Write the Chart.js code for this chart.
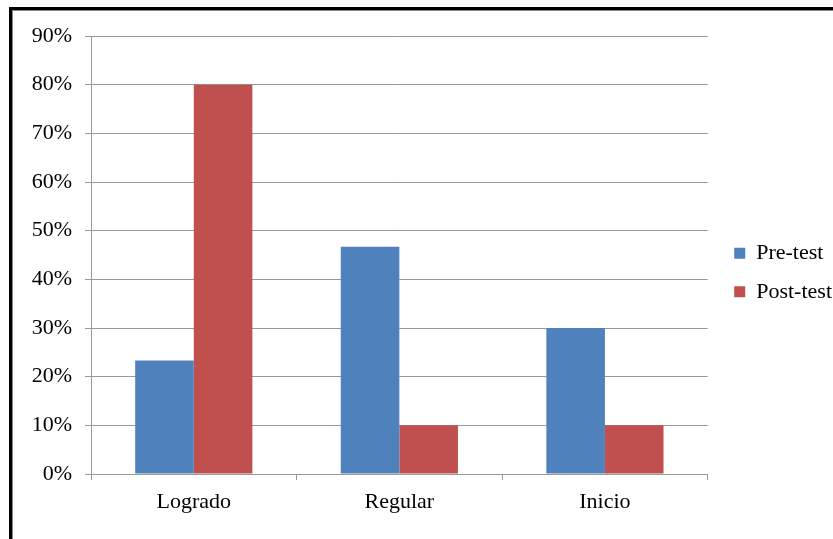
<!DOCTYPE html>
<html>
<head>
<meta charset="utf-8">
<script src="https://cdn.jsdelivr.net/npm/chart.js@4.4.0/dist/chart.umd.min.js"></script>
<style>
  html, body { margin: 0; padding: 0; background: #fff; }
  #wrap { position: relative; width: 833px; height: 539px; overflow: hidden; }
  #frame {
    position: absolute; left: 9px; top: 7px; width: 900px; height: 600px;
    border-top: 3px solid #000; border-left: 3px solid #000;
    box-shadow: inset 1px 1px 0 #888;
  }
  canvas { position: absolute; left: 0; top: 0; }
</style>
</head>
<body>
<div id="wrap">
  <canvas id="chart" width="833" height="539"></canvas>
  <div id="frame"></div>
</div>
<script>
// data
const categories = ['Logrado', 'Regular', 'Inicio'];
const preTest = [0.233, 0.467, 0.30];
const postTest = [0.80, 0.10, 0.10];
const seriesNames = ['Pre-test', 'Post-test'];
const yTicks = [0, 0.1, 0.2, 0.3, 0.4, 0.5, 0.6, 0.7, 0.8, 0.9];

const gridColor = '#999';
const font = { family: 'Liberation Serif', size: 22 };

// nudge the legend to where Excel put it
const legendShift = {
  id: 'legendShift',
  afterLayout(chart) {
    const lg = chart.legend;
    if (!lg) return;
    lg.top -= 15; lg.bottom -= 15;
    lg.left += 10; lg.right += 10;
  }
};

new Chart(document.getElementById('chart'), {
  type: 'bar',
  data: {
    labels: categories,
    datasets: [
      { label: seriesNames[0], data: preTest, backgroundColor: '#4F81BD' },
      { label: seriesNames[1], data: postTest, backgroundColor: '#C0504D' }
    ]
  },
  options: {
    responsive: false,
    animation: false,
    layout: { padding: { top: 36, right: 1, bottom: 0, left: 0 } },
    datasets: { bar: { categoryPercentage: 0.57, barPercentage: 1 } },
    plugins: {
      legend: {
        position: 'right',
        labels: { color: '#000', font, boxWidth: 11, boxHeight: 11, padding: 16.5 }
      },
      tooltip: { enabled: false }
    },
    scales: {
      x: {
        afterFit(scale) { scale.height = 65; },
        grid: { display: true, drawOnChartArea: false, drawTicks: true, tickLength: 6, color: gridColor, offset: true },
        border: { display: true, color: gridColor },
        ticks: { color: '#000', font, padding: 9 }
      },
      y: {
        min: 0,
        max: 0.9,
        afterFit(scale) { scale.width = 91; },
        afterBuildTicks(scale) { scale.ticks = yTicks.map(v => ({ value: v })); },
        grid: { color: gridColor, tickLength: 6 },
        border: { display: true, color: gridColor },
        ticks: {
          color: '#000', font, padding: 13,
          callback: v => Math.round(v * 100) + '%'
        }
      }
    }
  },
  plugins: [legendShift]
});
</script>
</body>
</html>
